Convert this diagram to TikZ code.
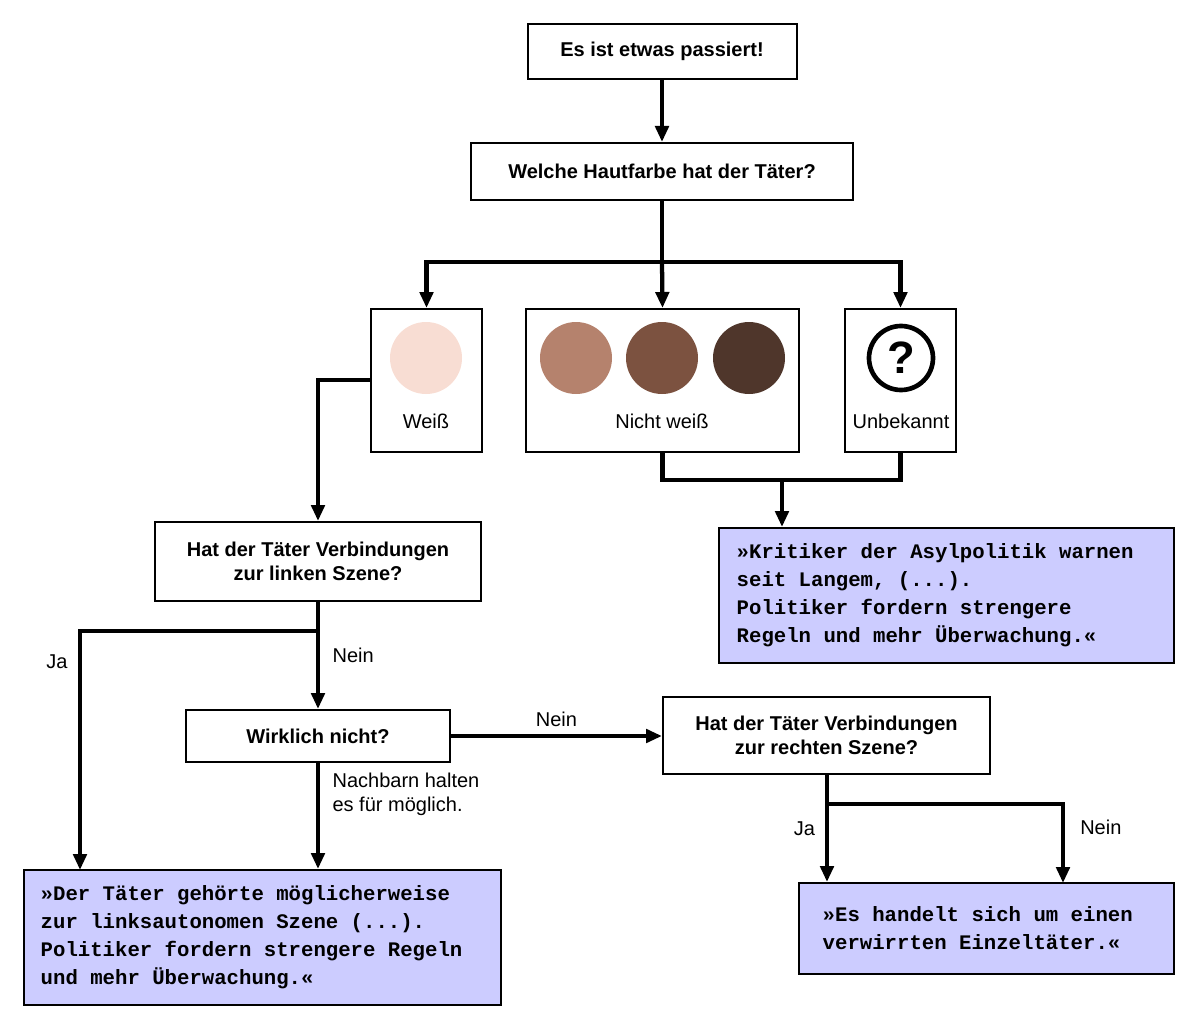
\documentclass[tikz,border=0pt]{standalone}
\usepackage{fontspec}
\setmainfont{Liberation Sans}
\newfontfamily\monofont{Liberation Mono}
\usetikzlibrary{arrows.meta}
\definecolor{quote}{HTML}{CCCCFF}
\definecolor{skinA}{HTML}{F8DDD3}
\definecolor{skinB}{HTML}{B5826D}
\definecolor{skinC}{HTML}{7C5240}
\definecolor{skinD}{HTML}{4F362B}
\tikzset{
  box/.style 2 args={draw, line width=1.5, minimum width=#1*0.75pt, minimum height=#2*0.75pt, inner sep=0pt},
  ask/.style={font=\bfseries\fontsize{15}{18}\selectfont, align=center},
  said/.style={font=\monofont\bfseries\fontsize{15.5}{21}\selectfont, align=left, anchor=west},
  lbl/.style={font=\fontsize{15}{18}\selectfont, align=left},
  dot/.style={circle, minimum size=54pt, inner sep=0pt},
  flow/.style={line width=3.2, -{Triangle[length=12pt,width=10pt]}},
  line/.style={line width=3.2}
}
\begin{document}
\begin{tikzpicture}[x=0.75pt,y=-0.75pt]
  \useasboundingbox (0,0) rectangle (1200,1027);
  % questions
  \node[box={269}{55}, ask] (start) at (662,51.5) {Es ist etwas passiert!};
  \node[box={382}{57}, ask] (haut) at (662,171.5) {Welche Hautfarbe hat der Täter?};
  \node[box={111}{143}] (weiss) at (426.5,380.5) {};
  \node[box={273}{143}] (nichtw) at (662.5,380.5) {};
  \node[box={111}{143}] (unbek) at (900.5,380.5) {};
  \node[box={326}{79}, ask] (links) at (318,561.5) {Hat der Täter Verbindungen\\zur linken Szene?};
  \node[box={264}{52}, ask] (wirklich) at (318,736) {Wirklich nicht?};
  \node[box={327}{77}, ask] (rechts) at (826.5,735.5) {Hat der Täter Verbindungen\\zur rechten Szene?};
  % answers
  \node[box={455}{135}, fill=quote] (krit) at (946.5,595.5) {};
  \node[box={477}{135}, fill=quote] (linksq) at (262.5,937.5) {};
  \node[box={375}{91}, fill=quote] (einzel) at (986.5,928.5) {};
  \node[said] (kritT) at (732,595.5) {»Kritiker der Asylpolitik warnen\\seit Langem, (...).\\Politiker fordern strengere\\Regeln und mehr Überwachung.«};
  \node[said] (linksT) at (36,937.5) {»Der Täter gehörte möglicherweise\\zur linksautonomen Szene (...).\\Politiker fordern strengere Regeln\\und mehr Überwachung.«};
  \node[said] (einzelT) at (818,928.5) {»Es handelt sich um einen\\verwirrten Einzeltäter.«};
  % skin colours
  \node[dot, fill=skinA] (cA) at (426,358) {};
  \node[dot, fill=skinB] (cB) at (576,358) {};
  \node[dot, fill=skinC] (cC) at (662,358) {};
  \node[dot, fill=skinD] (cD) at (749,358) {};
  \node[dot, draw, line width=3.5, minimum size=48pt, font=\bfseries\fontsize{34}{34}\selectfont] (cQ) at (901,358) {?};
  \node[lbl] (tA) at (426,421) {Weiß};
  \node[lbl] (tB) at (662,421) {Nicht weiß};
  \node[lbl] (tQ) at (901,421) {Unbekannt};
  % connectors
  \draw[flow] (start) -- (haut);
  \coordinate (split) at (662,262);
  \draw[line] (haut.south) -- (split);
  \draw[flow] (split) -| (weiss.north);
  \draw[flow] (split) -- (nichtw.north);
  \draw[flow] (split) -| (unbek.north);
  \draw[flow] (weiss.west |- 0,380) -| (links.north);
  \coordinate (join) at (782,480);
  \draw[line] (nichtw.south) |- (join) -| (unbek.south);
  \draw[flow] (join) -- (join |- krit.north);
  \coordinate (jaL) at (318,631);
  \draw[flow] (links.south) -- node[lbl, right=6pt] (neinA) {Nein} (wirklich.north);
  \draw[flow] (jaL) -| (80,870);
  \node[lbl] (jaA) at (57,662) {Ja};
  \draw[flow] (wirklich.south) -- node[lbl, right=6pt, pos=0.3] (nachb) {Nachbarn halten\\es für möglich.} (wirklich.south |- linksq.north);
  \draw[flow] (wirklich.east) -- node[lbl, above=2pt] (neinB) {Nein} (rechts.west |- wirklich.east);
  \coordinate (jaR) at (827,804);
  \draw[flow] (rechts.south -| jaR) -- node[lbl, pos=0.5, left=4pt] (jaC) {Ja} (jaR |- einzel.north);
  \draw[flow] (jaR) -| node[lbl, pos=0.65, right=8pt] (neinC) {Nein} (1063,883);
\end{tikzpicture}
\end{document}
